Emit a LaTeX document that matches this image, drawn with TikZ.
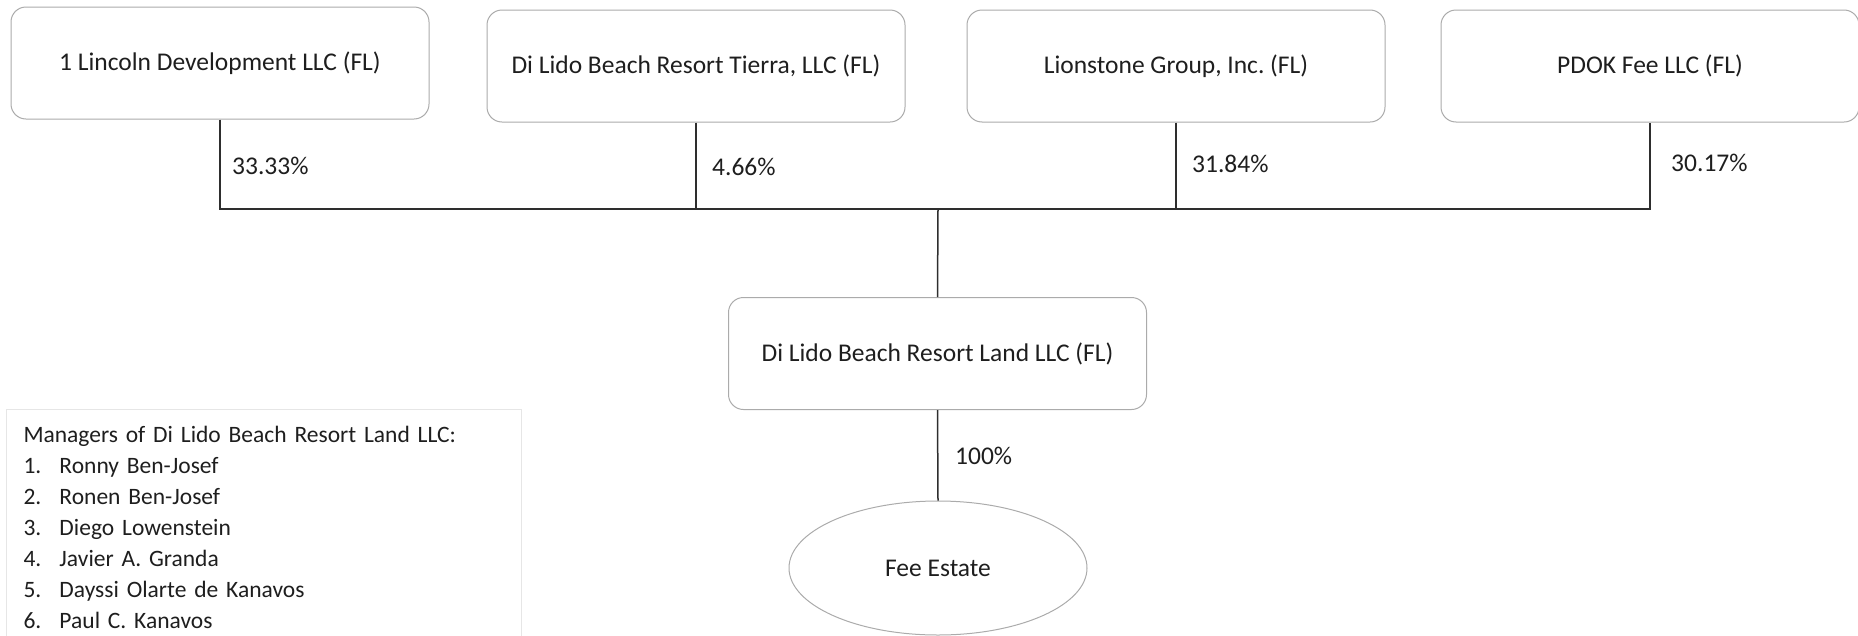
\documentclass[tikz,border=0pt]{standalone}
\usepackage{fontspec}
\setmainfont{Carlito}
\usetikzlibrary{shapes.geometric}
\definecolor{txt}{HTML}{1E1E1E}
\definecolor{boxline}{HTML}{ABABAB}
\definecolor{conn}{HTML}{2E2E2E}
\definecolor{faint}{HTML}{E6E6E6}
\frenchspacing
\begin{document}
\begin{tikzpicture}[x=1pt,y=-1pt,
  entity/.style={draw=boxline, line width=1pt, rounded corners=15pt,
    minimum width=418pt, minimum height=112pt, inner sep=0pt, text=txt,
    font=\fontsize{25.5}{30}\selectfont},
  pct/.style={anchor=west, inner sep=0pt, text=txt, font=\fontsize{25.5}{30}\selectfont},
  link/.style={draw=conn, line width=1.5pt},
  mgrbox/.style={draw=faint, line width=1pt, anchor=north west, align=left,
    text width=481pt, inner xsep=17pt, inner ysep=17pt, text=txt,
    font=\fontsize{23.5}{31}\selectfont}]
\useasboundingbox (0,0) rectangle (1858,635);
% owners
\node[entity] (a) at (220,63) {1 Lincoln Development LLC (FL)};
\node[entity] (b) at (696,66) {Di Lido Beach Resort Tierra, LLC (FL)};
\node[entity] (c) at (1176,66) {Lionstone Group, Inc. (FL)};
\node[entity] (d) at (1650,66) {PDOK Fee LLC (FL)};
% company and fee estate
\node[entity] (m) at (937.5,353.5) {Di Lido Beach Resort Land LLC (FL)};
\node[ellipse, draw=boxline, line width=1pt, minimum width=298pt, minimum height=134pt,
  inner sep=0pt, text=txt, font=\fontsize{25.5}{30}\selectfont] (fee) at (938,568) {Fee Estate};
% bus
\coordinate (j) at (938,209);
\draw[link] (a.south) |- (j) -| (d.south);
\draw[link] (b.south) |- (j);
\draw[link] (c.south) |- (j);
\draw[link] (j) -- (m.north);
\draw[link] (m.south) -- (fee.north);
% percentages
\node[pct] (pa) at (232,166) {33.33\%};
\node[pct] (pb) at (712,167) {4.66\%};
\node[pct] (pc) at (1192,164) {31.84\%};
\node[pct] (pd) at (1671,163) {30.17\%};
\node[pct] (pm) at (955,456) {100\%};
% managers
\node[mgrbox] (mgr) at (6,409) {Managers of Di Lido Beach Resort Land LLC:\\
\makebox[36pt][l]{1.}Ronny Ben-Josef\\
\makebox[36pt][l]{2.}Ronen Ben-Josef\\
\makebox[36pt][l]{3.}Diego Lowenstein\\
\makebox[36pt][l]{4.}Javier A. Granda\\
\makebox[36pt][l]{5.}Dayssi Olarte de Kanavos\\
\makebox[36pt][l]{6.}Paul C. Kanavos};
\end{tikzpicture}
\end{document}
